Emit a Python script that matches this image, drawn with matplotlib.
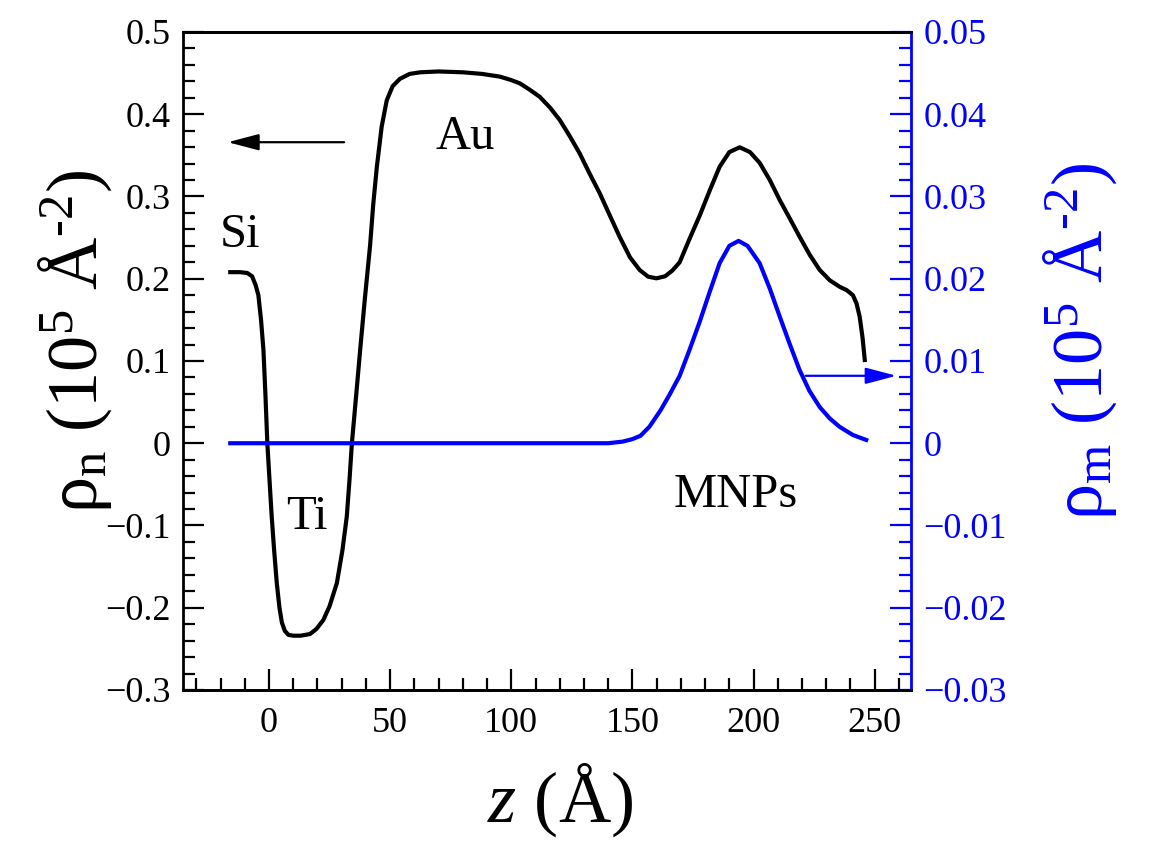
import matplotlib
matplotlib.use("Agg")
import matplotlib.pyplot as plt
from matplotlib.ticker import MultipleLocator, FuncFormatter

plt.rcParams['font.family'] = ['Liberation Serif', 'DejaVu Serif']
plt.rcParams['mathtext.fontset'] = 'custom'
plt.rcParams['mathtext.rm'] = 'Liberation Serif'
plt.rcParams['mathtext.it'] = 'Liberation Serif:italic'

# ---- data ----
z_n = [-16, -12, -9, -7, -5.5, -4.4, -3.3, -2.3, -1.5, -0.7, 0.2, 1.1, 2.1, 3.2,
       4.3, 5.3, 6.5, 8, 10, 13, 16.9, 19.5, 22.4, 25, 28, 30.3, 32.1, 33.2, 34.2,
       35.9, 37.6, 39.5, 41.7, 43, 44.5, 46.5, 48.6, 51, 54, 58, 62.4, 70, 80, 88,
       95.3, 99.5, 103.5, 107.5, 111.7, 116, 120, 124, 128.2, 132.3, 136.5, 140.5,
       144.7, 149, 153, 156.5, 159.9, 163.5, 166.5, 169.5, 173.5, 177.8, 182, 186,
       190, 194.3, 198.5, 202.5, 206.7, 210.8, 215, 219, 223.2, 227.3, 231.5,
       235.5, 238.5, 241, 242.5, 243.8, 245, 245.9]
rho_n = [0.208, 0.208, 0.207, 0.203, 0.192, 0.180, 0.150, 0.113, 0.060, 0.0, -0.045,
         -0.089, -0.130, -0.170, -0.200, -0.218, -0.228, -0.233, -0.234, -0.234,
         -0.232, -0.226, -0.215, -0.198, -0.170, -0.130, -0.089, -0.045, 0.0, 0.056,
         0.113, 0.174, 0.240, 0.290, 0.336, 0.385, 0.417, 0.434, 0.443, 0.449, 0.451,
         0.452, 0.451, 0.449, 0.4457, 0.442, 0.4376, 0.430, 0.4213, 0.408, 0.393,
         0.374, 0.3525, 0.328, 0.3039, 0.278, 0.2511, 0.226, 0.2106, 0.2025, 0.2005,
         0.203, 0.210, 0.220, 0.248, 0.277, 0.308, 0.3362, 0.354, 0.3598, 0.354,
         0.341, 0.320, 0.2957, 0.273, 0.2511, 0.229, 0.2106, 0.198, 0.1903, 0.186,
         0.180, 0.170, 0.1538, 0.128, 0.1012]

z_m = [-16, 140, 146, 150, 153.3, 157, 161.6, 165.5, 169.5, 173.5, 177.8, 182, 186,
       190, 193.8, 197.5, 202.5, 206.7, 210.8, 215, 219, 223, 227.3, 231.5, 235.5,
       241, 246.5]
rho_m = [0.0, 0.0, 0.0002, 0.0005, 0.0009, 0.0020, 0.0040, 0.0060, 0.0082, 0.0113,
         0.0148, 0.0185, 0.0219, 0.0240, 0.0246, 0.0240, 0.0219, 0.0188, 0.0154,
         0.0120, 0.0089, 0.0064, 0.0044, 0.0030, 0.0020, 0.0010, 0.0004]

# layer names and where they sit (z, rho_n)
layers = ['Si', 'Ti', 'Au', 'MNPs']
layer_z = [-12, 15.5, 81, 192.5]
layer_rho = [0.253, -0.09, 0.372, -0.063]

blue = '#0000ff'


def fmt(v, pos):
    s = f'{v:.3g}'
    if abs(v) < 1e-9:
        s = '0'
    return s.replace('-', '\u2212')


fig = plt.figure(figsize=(11.71, 8.6), dpi=100)
ax = fig.add_axes([0.1563, 0.1977, 0.6217, 0.7651])
ax2 = ax.twinx()

ax.plot(z_n, rho_n, color='black', lw=3.0, solid_joinstyle='round')
ax2.plot(z_m, rho_m, color=blue, lw=3.0, solid_joinstyle='round')

ax.set_xlim(-35.5, 265)
ax.set_ylim(-0.3, 0.5)
ax2.set_ylim(-0.03, 0.05)

ax.xaxis.set_major_locator(MultipleLocator(50))
ax.xaxis.set_minor_locator(MultipleLocator(10))
ax.yaxis.set_major_locator(MultipleLocator(0.1))
ax.yaxis.set_minor_locator(MultipleLocator(0.02))
ax2.yaxis.set_major_locator(MultipleLocator(0.01))
ax2.yaxis.set_minor_locator(MultipleLocator(0.002))
ax.yaxis.set_major_formatter(FuncFormatter(fmt))
ax2.yaxis.set_major_formatter(FuncFormatter(fmt))
ax.xaxis.set_major_formatter(FuncFormatter(fmt))

ax.tick_params(axis='both', which='major', direction='in', length=15, width=1.6,
               labelsize=26, top=False, right=False)
ax.tick_params(axis='both', which='minor', direction='in', length=8.5, width=1.6,
               top=False, right=False)
ax.tick_params(axis='y', pad=9)
ax.tick_params(axis='x', pad=12)
ax2.tick_params(axis='y', which='major', direction='in', length=15, width=1.6,
                labelsize=26, colors=blue, pad=9)
ax2.tick_params(axis='y', which='minor', direction='in', length=8.5, width=1.6,
                colors=blue)

for a in (ax, ax2):
    for s in a.spines.values():
        s.set_linewidth(2.0)
ax.spines['right'].set_visible(False)
ax2.spines['left'].set_visible(False)
ax2.spines['right'].set_color(blue)

ax.text(0.518, -0.168, '$\\mathit{z}$ (Å)', transform=ax.transAxes,
        ha='center', va='center', fontsize=52)
ax.text(-0.148, 0.53, 'ρ$_\\mathrm{n}$ (10$^5$ Å$^{\u2010 2}$)',
        transform=ax.transAxes, ha='center', va='center', rotation=90, fontsize=52)
ax.text(1.232, 0.53, 'ρ$_\\mathrm{m}$ (10$^5$ Å$^{\u2010 2}$)', color=blue,
        transform=ax.transAxes, ha='center', va='center', rotation=90, fontsize=52)

for name, zx, ry in zip(layers, layer_z, layer_rho):
    ax.text(zx, ry, name, ha='center', va='center', fontsize=35)

# arrows pointing to the axis each curve belongs to
ax.annotate('', xy=(-17, 0.366), xytext=(31, 0.366),
            arrowprops=dict(arrowstyle='-|>,head_length=0.95,head_width=0.25',
                            mutation_scale=20, lw=1.6, color='black',
                            shrinkA=0, shrinkB=0))
ax2.annotate('', xy=(259, 0.0082), xytext=(221.5, 0.0082),
             arrowprops=dict(arrowstyle='-|>,head_length=0.95,head_width=0.25',
                             mutation_scale=20, lw=1.6, color=blue,
                             shrinkA=0, shrinkB=0))

fig.savefig('out.png', dpi=100)
